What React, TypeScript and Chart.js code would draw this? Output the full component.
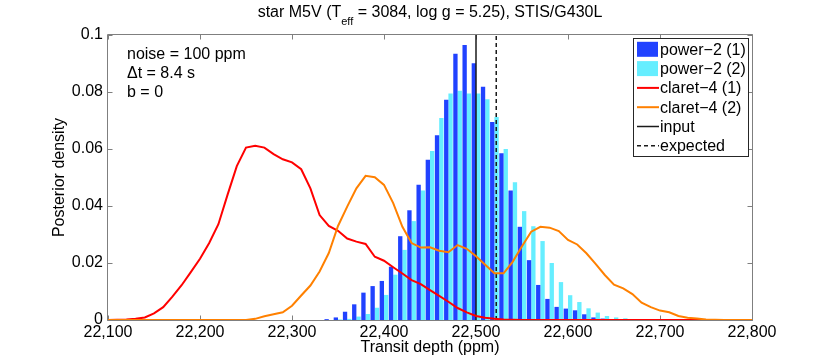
import React, { useEffect, useRef } from 'react';
import { Chart, registerables } from 'chart.js';

Chart.register(...registerables);

// ---------------- data ----------------
const binCenters = [
  22340, 22350, 22360, 22370, 22380, 22390, 22400, 22410, 22420, 22430, 22440, 22450,
  22460, 22470, 22480, 22490, 22500, 22510, 22520, 22530, 22540, 22550, 22560, 22570,
  22580, 22590, 22600, 22610, 22620, 22630, 22640, 22650, 22660, 22670,
];
const power2Run1 = [
  0.0003, 0.0009, 0.0029, 0.0055, 0.0096, 0.0119, 0.0137, 0.0187, 0.0294, 0.0385, 0.0475, 0.0562,
  0.0648, 0.0773, 0.0934, 0.0965, 0.0901, 0.0818, 0.0695, 0.0585, 0.0454, 0.0327, 0.0210, 0.0123,
  0.0074, 0.0046, 0.0040, 0.0034, 0.0020, 0.0009, 0.0005, 0.0002, 0, 0,
];
const power2Run2 = [
  0, 0.0002, 0.0004, 0.0012, 0.0021, 0.0043, 0.0088, 0.0159, 0.0246, 0.0347, 0.0454, 0.0593,
  0.0709, 0.0795, 0.0804, 0.0795, 0.0795, 0.0775, 0.0712, 0.0600, 0.0483, 0.0382, 0.0329, 0.0277,
  0.0200, 0.0133, 0.0087, 0.0063, 0.0041, 0.0026, 0.0014, 0.0009, 0.0006, 0.0002,
];

const curveDepths = [
  22100, 22110, 22120, 22130, 22140, 22150, 22160, 22170, 22180, 22190,
  22200, 22210, 22220, 22230, 22240, 22250, 22260, 22270, 22280, 22290,
  22300, 22310, 22320, 22330, 22340, 22350, 22360, 22370, 22380, 22390,
  22400, 22410, 22420, 22430, 22440, 22450, 22460, 22470, 22480, 22490,
  22500, 22510, 22520, 22530, 22540, 22550, 22560, 22570, 22580, 22590,
  22600, 22610, 22620, 22630, 22640, 22650, 22660, 22670, 22680, 22690,
  22700, 22710, 22720, 22730, 22740, 22750, 22760, 22770, 22780, 22790,
  22800,
];
const claret4Run1 = [
  0, 0.0001, 0.0002, 0.0004, 0.0009, 0.0023, 0.0045, 0.0082, 0.0122, 0.0168,
  0.0215, 0.0270, 0.0336, 0.0440, 0.0540, 0.0605, 0.0611, 0.0605, 0.0582, 0.0564,
  0.0553, 0.0529, 0.0462, 0.0368, 0.0330, 0.0313, 0.0286, 0.0275, 0.0267, 0.0222,
  0.0208, 0.0185, 0.0163, 0.0140, 0.0126, 0.0105, 0.0085, 0.0064, 0.0042, 0.0027,
  0.0014, 0.0008, 0.0004, 0.0002, 0.0001, 0, 0, 0, 0, 0,
  0, 0, 0, 0, 0, 0, 0, 0, 0, 0,
  0, 0, 0, 0, 0, 0, 0, 0, 0, 0,
  0,
];
const claret4Run2 = [
  0, 0, 0, 0, 0, 0, 0, 0, 0, 0,
  0, 0, 0, 0, 0, 0, 0.0004, 0.0013, 0.0020, 0.0027,
  0.0050, 0.0086, 0.0121, 0.0170, 0.0235, 0.0330, 0.0398, 0.0462, 0.0506, 0.0501,
  0.0474, 0.0410, 0.0327, 0.0270, 0.0254, 0.0255, 0.0243, 0.0238, 0.0263, 0.0250,
  0.0224, 0.0194, 0.0164, 0.0164, 0.0205, 0.0259, 0.0310, 0.0327, 0.0324, 0.0312,
  0.0281, 0.0265, 0.0234, 0.0197, 0.0158, 0.0124, 0.0111, 0.0091, 0.0061, 0.0045,
  0.0033, 0.0027, 0.0014, 0.0008, 0.0005, 0.0002, 0.0001, 0, 0, 0,
  0,
];

const inputDepth = 22500;
const expectedDepth = 22522;

const xTickValues = [22100, 22200, 22300, 22400, 22500, 22600, 22700, 22800];
const yTickValues = [0, 0.02, 0.04, 0.06, 0.08, 0.1];

const titleMain = 'star M5V (T';
const titleSub = 'eff';
const titleRest = ' = 3084, log g = 5.25), STIS/G430L';
const annotationLines = ['noise = 100 ppm', '\u0394t = 8.4 s', 'b = 0'];
const xLabel = 'Transit depth (ppm)';
const yLabel = 'Posterior density';

// ---------------- styles ----------------
const FONT = '"Liberation Sans", Arial, Helvetica, sans-serif';
const AXIS_COLOR = '#7f7f7f';
const DARK_BLUE = '#2142ff';
const CYAN = '#66eeff';
const RED = '#ff0000';
const ORANGE = '#ff8000';

const overlayPlugin = {
  id: 'overlay',
  beforeDatasetsDraw(chart: any) {
    const { ctx, chartArea: a, scales } = chart;
    const L = Math.round(a.left) - 0.5;
    const T = Math.round(a.top) - 0.5;
    const R = Math.round(a.right) + 0.5;
    const B = Math.round(a.bottom) + 0.5;
    ctx.save();
    ctx.strokeStyle = AXIS_COLOR;
    ctx.lineWidth = 1;
    ctx.beginPath();
    ctx.rect(L, T, R - L, B - T);
    const tl = 5;
    xTickValues.forEach((v) => {
      const px = Math.round(scales.x.getPixelForValue(v)) + 0.5;
      ctx.moveTo(px, B);
      ctx.lineTo(px, B - tl);
      ctx.moveTo(px, T);
      ctx.lineTo(px, T + tl);
    });
    yTickValues.forEach((v) => {
      const py = Math.round(scales.y.getPixelForValue(v)) + 0.5;
      ctx.moveTo(L, py);
      ctx.lineTo(L + tl, py);
      ctx.moveTo(R, py);
      ctx.lineTo(R - tl, py);
    });
    ctx.stroke();
    ctx.restore();
  },
  afterDraw(chart: any) {
    const { ctx, chartArea: a } = chart;
    ctx.save();
    ctx.fillStyle = '#000';
    ctx.textBaseline = 'alphabetic';
    ctx.textAlign = 'left';

    // Title with subscript
    const mainFont = `16px ${FONT}`;
    const subFont = `11px ${FONT}`;
    ctx.font = mainFont;
    const w1 = ctx.measureText(titleMain).width;
    const w3 = ctx.measureText(titleRest).width;
    ctx.font = subFont;
    const w2 = ctx.measureText(titleSub).width;
    const total = w1 + w2 + w3;
    const cx = (a.left + a.right) / 2;
    let tx = cx - total / 2;
    const base = 17;
    ctx.font = mainFont;
    ctx.fillText(titleMain, tx, base);
    tx += w1;
    ctx.font = subFont;
    ctx.fillText(titleSub, tx, base + 8);
    tx += w2;
    ctx.font = mainFont;
    ctx.fillText(titleRest, tx, base);

    // Annotation text
    ctx.font = `16px ${FONT}`;
    const annBase = [59.3, 78, 96.7];
    annotationLines.forEach((t, i) => ctx.fillText(t, 127, annBase[i]));

    // Legend
    const datasets = chart.data.datasets;
    const bx = 633.5, by = 38.5, bw = 115, bh = 118;
    ctx.fillStyle = '#ffffff';
    ctx.fillRect(bx, by, bw, bh);
    ctx.strokeStyle = '#262626';
    ctx.lineWidth = 1;
    ctx.strokeRect(bx, by, bw, bh);
    const rowStart = 49.3;
    const rowStep = 19.3;
    ctx.font = `16px ${FONT}`;
    ctx.textBaseline = 'middle';
    datasets.forEach((ds: any, i: number) => {
      const cy = rowStart + i * rowStep;
      if (ds.type === 'bar' || !ds.type) {
        ctx.fillStyle = ds.backgroundColor;
        ctx.fillRect(637, cy - 7.5, 21, 15);
      } else {
        ctx.strokeStyle = ds.borderColor;
        ctx.lineWidth = ds.legendWidth || 2;
        ctx.setLineDash(ds.borderDash || []);
        ctx.beginPath();
        ctx.moveTo(637, cy);
        ctx.lineTo(659, cy);
        ctx.stroke();
        ctx.setLineDash([]);
      }
      ctx.fillStyle = '#000';
      ctx.fillText(ds.label, 660, cy + 1);
    });
    ctx.restore();
  },
};

function formatY(v: number): string {
  if (Math.abs(v) < 1e-9) return '0';
  return String(parseFloat(v.toFixed(2)));
}

export default function App() {
  const canvasRef = useRef<HTMLCanvasElement | null>(null);

  useEffect(() => {
    const canvas = canvasRef.current;
    if (!canvas) return;

    const barData1 = binCenters.map((x, i) => ({ x, y: power2Run1[i] }));
    const barData2 = binCenters.map((x, i) => ({ x, y: power2Run2[i] }));
    const curve1 = curveDepths.map((x, i) => ({ x, y: claret4Run1[i] }));
    const curve2 = curveDepths.map((x, i) => ({ x, y: claret4Run2[i] }));

    const chart = new Chart(canvas, {
      type: 'bar',
      data: {
        datasets: [
          {
            type: 'bar',
            label: 'power\u22122 (1)',
            data: barData1,
            backgroundColor: DARK_BLUE,
            borderWidth: 0,
            categoryPercentage: 0.94,
            barPercentage: 1.0,
            order: 10,
          } as any,
          {
            type: 'bar',
            label: 'power\u22122 (2)',
            data: barData2,
            backgroundColor: CYAN,
            borderWidth: 0,
            categoryPercentage: 0.94,
            barPercentage: 1.0,
            order: 10,
          } as any,
          {
            type: 'line',
            label: 'claret\u22124 (1)',
            data: curve1,
            borderColor: RED,
            backgroundColor: RED,
            borderWidth: 2,
            pointRadius: 0,
            tension: 0,
            fill: false,
            order: 3,
          } as any,
          {
            type: 'line',
            label: 'claret\u22124 (2)',
            data: curve2,
            borderColor: ORANGE,
            backgroundColor: ORANGE,
            borderWidth: 2,
            pointRadius: 0,
            tension: 0,
            fill: false,
            order: 2,
          } as any,
          {
            type: 'line',
            label: 'input',
            data: [
              { x: inputDepth, y: 0 },
              { x: inputDepth, y: 0.1 },
            ],
            borderColor: '#1a1a1a',
            borderWidth: 1.5,
            legendWidth: 1.5,
            pointRadius: 0,
            fill: false,
            order: 4,
          } as any,
          {
            type: 'line',
            label: 'expected',
            data: [
              { x: expectedDepth, y: 0 },
              { x: expectedDepth, y: 0.1 },
            ],
            borderColor: '#1a1a1a',
            borderWidth: 1.5,
            legendWidth: 1.5,
            borderDash: [4, 3],
            pointRadius: 0,
            fill: false,
            order: 5,
          } as any,
        ],
      },
      options: {
        animation: false,
        responsive: false,
        devicePixelRatio: 1,
        layout: { padding: { left: 0, right: 78, top: 35, bottom: 0 } },
        plugins: {
          legend: { display: false },
          title: { display: false },
          tooltip: { enabled: false },
        },
        scales: {
          x: {
            type: 'linear',
            position: 'bottom',
            min: 22100,
            max: 22800,
            offset: false,
            grid: { display: false, drawTicks: false, offset: false },
            border: { display: false },
            ticks: {
              stepSize: 100,
              padding: 3,
              color: '#000',
              font: { family: FONT, size: 16 },
              maxRotation: 0,
              autoSkip: false,
              callback: (v: any) => Number(v).toLocaleString('en-US'),
            },
            title: {
              display: true,
              text: xLabel,
              color: '#000',
              font: { family: FONT, size: 16 },
              padding: { top: 0, bottom: 7 },
            },
            afterFit: (scale: any) => {
              scale.height = 44;
            },
          },
          y: {
            type: 'linear',
            position: 'left',
            min: 0,
            max: 0.1,
            grid: { display: false, drawTicks: false },
            border: { display: false },
            ticks: {
              stepSize: 0.02,
              padding: 5,
              color: '#000',
              font: { family: FONT, size: 16 },
              callback: (v: any) => formatY(Number(v)),
            },
            title: {
              display: true,
              text: yLabel,
              color: '#000',
              font: { family: FONT, size: 16 },
              padding: { top: 50, bottom: 0 },
            },
            afterFit: (scale: any) => {
              scale.width = 108;
            },
          },
        },
      } as any,
      plugins: [overlayPlugin],
    });

    return () => {
      chart.destroy();
    };
  }, []);

  return (
    <div style={{ position: 'absolute', left: 0, top: 0, width: 830, height: 364, background: '#fff' }}>
      <canvas ref={canvasRef} width={830} height={364} style={{ display: 'block', width: 830, height: 364 }} />
    </div>
  );
}
